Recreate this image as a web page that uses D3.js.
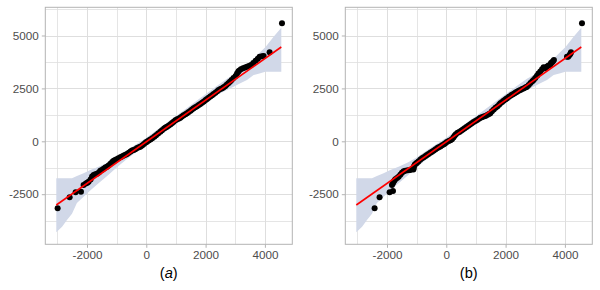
<!DOCTYPE html>
<html>
<head>
<meta charset="utf-8">
<script src="https://cdn.jsdelivr.net/npm/d3@7"></script>
<style>
    body { margin: 0; background: #fff; }
    svg { display: block; font-family: "Liberation Sans", Arial, sans-serif; }
</style>
</head>
<body>
<div id="chart"></div>
<script>
// theoretical (x) and sample (y) quantiles, panel (a)
var pointsA = [
    [-2990, -3170], [-2585, -2650], [-2384, -2410], [-2203, -2380], [-2115, -2070], [-2040, -2000],
    [-1990, -1960], [-1946, -1910], [-1880, -1800], [-1830, -1660], [-1776, -1590], [-1720, -1560],
    [-1660, -1530], [-1600, -1470], [-1551, -1390], [-1500, -1360], [-1440, -1300], [-1380, -1240],
    [-1326, -1200], [-1270, -1140], [-1210, -1060], [-1150, -980], [-1101, -920], [-1050, -880],
    [-1000, -850], [-940, -800], [-877, -756], [-820, -720], [-760, -670], [-700, -630], [-651, -600],
    [-590, -540], [-530, -480], [-480, -440], [-427, -410], [-370, -370], [-310, -320], [-250, -280],
    [-202, -255], [-140, -200], [-80, -130], [-20, -60], [24, -19], [80, 40], [140, 90], [200, 150],
    [270, 217], [330, 280], [400, 370], [472, 454], [530, 520], [600, 600], [650, 650], [698, 690],
    [760, 750], [820, 810], [870, 870], [922, 926], [980, 990], [1040, 1040], [1100, 1080],
    [1147, 1115], [1200, 1170], [1260, 1230], [1320, 1280], [1372, 1323], [1430, 1380], [1490, 1440],
    [1540, 1500], [1596, 1560], [1650, 1610], [1710, 1660], [1770, 1710], [1821, 1763], [1880, 1820],
    [1940, 1880], [2000, 1950], [2047, 2000], [2100, 2060], [2160, 2120], [2220, 2180], [2270, 2235],
    [2330, 2300], [2390, 2370], [2439, 2424], [2500, 2470], [2560, 2510], [2607, 2552], [2660, 2600],
    [2710, 2670], [2766, 2741], [2820, 2820], [2877, 2897], [2940, 2990], [3012, 3086], [3060, 3200],
    [3100, 3290], [3126, 3337], [3190, 3400], [3261, 3450], [3330, 3490], [3396, 3526], [3460, 3560],
    [3531, 3606], [3610, 3700], [3688, 3810], [3760, 3900], [3823, 3999], [3900, 4020], [3958, 4031],
    [4159, 4206], [4576, 5577]
];

// panel (b)
var pointsB = [
    [-2418, -3166], [-2250, -2647], [-1912, -2410], [-1798, -2349], [-1832, -2065], [-1800, -1980],
    [-1776, -1909], [-1750, -1850], [-1720, -1796], [-1660, -1730], [-1607, -1673], [-1550, -1580],
    [-1495, -1484], [-1440, -1420], [-1383, -1389], [-1300, -1370], [-1214, -1356], [-1110, -1330],
    [-1100, -1260], [-1090, -1180], [-1060, -1100], [-1020, -1050], [-990, -1011], [-940, -950],
    [-880, -870], [-820, -803], [-760, -750], [-700, -690], [-652, -647], [-600, -600], [-540, -540],
    [-483, -491], [-420, -430], [-360, -370], [-300, -320], [-258, -284], [-200, -240], [-140, -190],
    [-80, -140], [-34, -95], [20, -30], [80, 20], [140, 50], [191, 100], [240, 180], [280, 260],
    [320, 330], [380, 400], [440, 440], [500, 500], [560, 560], [620, 620], [680, 680], [740, 730],
    [800, 790], [860, 850], [920, 910], [980, 960], [1040, 1010], [1100, 1060], [1147, 1110],
    [1200, 1140], [1260, 1170], [1320, 1200], [1380, 1240], [1440, 1290], [1484, 1330], [1540, 1420],
    [1600, 1500], [1660, 1580], [1720, 1650], [1780, 1730], [1821, 1796], [1880, 1860], [1940, 1930],
    [2000, 1990], [2047, 2032], [2110, 2100], [2170, 2160], [2230, 2210], [2290, 2260], [2340, 2310],
    [2384, 2344], [2440, 2390], [2500, 2430], [2560, 2470], [2620, 2510], [2680, 2550], [2721, 2580],
    [2780, 2660], [2840, 2760], [2900, 2840], [2945, 2897], [3000, 2990], [3058, 3100], [3110, 3200],
    [3170, 3300], [3230, 3400], [3283, 3500], [3339, 3450], [3396, 3540], [3450, 3580], [3507, 3606],
    [3531, 3700], [3570, 3740], [3598, 3780], [3630, 3842], [4069, 3999], [4110, 4000], [4159, 4078],
    [4190, 4150], [4205, 4206], [4576, 5577]
];

// confidence band (same for both panels)
var bandX  = [-3035, -2840, -2675, -2506, -2340, -2115, -1890, -1610, -1300, -1000, -600, 0, 600, 1200, 1800, 2400, 2720, 2945, 3170, 3396, 3620, 3845, 4014, 4300, 4553];
var bandLo = [-4300, -4036, -3719, -3420, -2915, -2618, -2330, -1980, -1620, -1240, -780, -170, 420, 1000, 1580, 2200, 2424, 2580, 2741, 2897, 3133, 3214, 3289, 3289, 3289];
var bandHi = [-1749, -1749, -1749, -1749, -1640, -1512, -1356, -1200, -1000, -760, -380, 170, 780, 1400, 2020, 2640, 2960, 3133, 3350, 3600, 3900, 4220, 4450, 4950, 5370];

// reference line end points
var lineX = [-3035, 4553];
var lineY = [-3010, 4456];

var xMajor = [-2000, 0, 2000, 4000],
    xMinor = [-3000, -1000, 1000, 3000],
    yMajor = [-2500, 0, 2500, 5000],
    yMinor = [-3750, -1250, 1250, 3750, 6250];

var panelLabels = ["a", "b"];

var width = 600, height = 290;

var svg = d3.select("#chart").append("svg")
    .attr("width", width)
    .attr("height", height);

function fmt(d) {
    return String(d);
}

function drawPanel(offset, points, label, italic) {
    var left = 45.3, right = 292.3, top = 7.3, bottom = 244.3;

    var x = d3.scaleLinear().domain([-3406, 4924]).range([left, right]),
        y = d3.scaleLinear().domain([-4868, 6333]).range([bottom, top]);

    var g = svg.append("g").attr("transform", "translate(" + offset + ",0)");

    // grid
    var grid = g.append("g").attr("stroke", "#dedede").attr("stroke-width", 1);
    xMinor.concat(xMajor).forEach(function (v) {
        grid.append("line")
            .attr("x1", Math.round(x(v)) + 0.5).attr("x2", Math.round(x(v)) + 0.5)
            .attr("y1", top).attr("y2", bottom)
            .attr("stroke-width", xMajor.indexOf(v) >= 0 ? 1 : 0.8);
    });
    yMinor.concat(yMajor).forEach(function (v) {
        grid.append("line")
            .attr("y1", Math.round(y(v)) + 0.5).attr("y2", Math.round(y(v)) + 0.5)
            .attr("x1", left).attr("x2", right)
            .attr("stroke-width", yMajor.indexOf(v) >= 0 ? 1 : 0.8);
    });

    // band
    var area = d3.area()
        .x(function (d, i) { return x(bandX[i]); })
        .y0(function (d, i) { return y(bandLo[i]); })
        .y1(function (d, i) { return y(bandHi[i]); });

    g.append("path")
        .datum(bandX)
        .attr("d", area)
        .attr("fill", "#d1d8e8");

    // points
    g.append("g").selectAll("circle")
        .data(points)
        .enter()
        .append("circle")
        .attr("cx", function (d) { return x(d[0]); })
        .attr("cy", function (d) { return y(d[1]); })
        .attr("r", 3)
        .attr("fill", "#000");

    // reference line
    g.append("line")
        .attr("x1", x(lineX[0])).attr("y1", y(lineY[0]))
        .attr("x2", x(lineX[1])).attr("y2", y(lineY[1]))
        .attr("stroke", "#ff0000")
        .attr("stroke-width", 1.6);

    // border
    g.append("rect")
        .attr("x", left).attr("y", top)
        .attr("width", right - left).attr("height", bottom - top)
        .attr("fill", "none")
        .attr("stroke", "#b3b3b3")
        .attr("stroke-width", 1);

    // axes
    var xAxis = d3.axisBottom(x).tickValues(xMajor).tickFormat(fmt).tickSize(3.5).tickPadding(3);
    var yAxis = d3.axisLeft(y).tickValues(yMajor).tickFormat(fmt).tickSize(3.5).tickPadding(3);

    var gx = g.append("g").attr("transform", "translate(0," + bottom + ")").call(xAxis);
    var gy = g.append("g").attr("transform", "translate(" + left + ",0)").call(yAxis);

    [gx, gy].forEach(function (ax) {
        ax.select(".domain").remove();
        ax.selectAll(".tick line").attr("stroke", "#b3b3b3");
        ax.selectAll(".tick text")
            .attr("fill", "#4d4d4d")
            .style("font-size", "11.7px")
            .style("font-family", "'Liberation Sans', Arial, sans-serif");
    });

    // panel caption
    var t = g.append("text")
        .attr("x", (left + right) / 2)
        .attr("y", 278)
        .attr("text-anchor", "middle")
        .attr("fill", "#000")
        .style("font-size", "14.6px");
    t.append("tspan").text("(");
    t.append("tspan").style("font-style", italic ? "italic" : "normal").text(label);
    t.append("tspan").text(")");
}

drawPanel(0, pointsA, panelLabels[0], true);
drawPanel(300, pointsB, panelLabels[1], false);
</script>
</body>
</html>
